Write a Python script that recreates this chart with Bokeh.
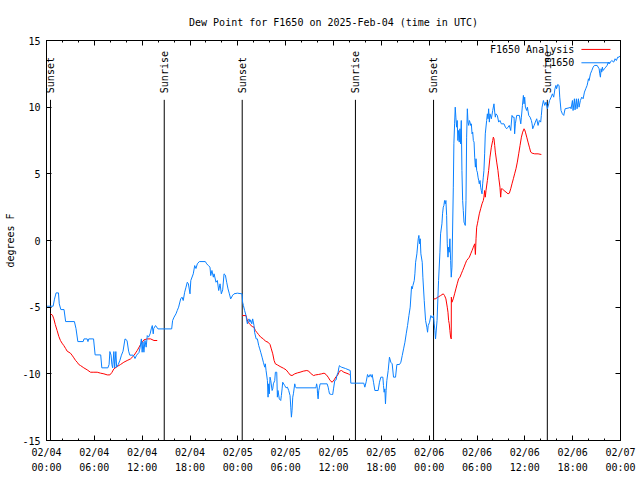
import math
from bokeh.plotting import figure
from bokeh.models import Range1d, FixedTicker, LinearAxis, Label, Arrow, CustomJSTickFormatter
from bokeh.core.properties import value
from bokeh.embed import file_html
from bokeh.resources import INLINE

NAN = float("nan")
FONT = "DejaVu Sans Mono"

# time axis: hours since 2025-02-04 00:00 UTC
# F1650 observations, (hour, dew point degF)
f1650_day1 = [(0.08,-4.93),(0.83,-4.93),(1.0,-4.4),(1.2,-3.93),(1.5,-3.93),(1.6,-4.75),(1.8,-5.18),(2.2,-5.18),(2.4,-6.08),(3.5,-6.08),(3.7,-6.6),(3.93,-7.58),(4.6,-7.58),(4.7,-7.38),(5.1,-7.38),(5.2,-7.58),(5.3,-7.38),(5.9,-7.38),(6.1,-8.58),(6.8,-8.58),(6.94,-9.55),(7.7,-9.55),(7.85,-9.3),(7.95,-8.33),(8.1,-8.6),(8.2,-9.3),(8.3,-9.55),(8.45,-8.33),(8.55,-9.55),(8.7,-8.33),(8.8,-9.5),(9.0,-9.3),(9.2,-9.0),(9.4,-8.6),(9.6,-8.3),(9.85,-7.38),(10.1,-7.5),(10.3,-8.3),(10.45,-8.6),(10.9,-8.6),(11.1,-8.85),(11.3,-8.6),(11.6,-8.4),(11.75,-8.0),(11.9,-7.38),(12.0,-8.38),(12.1,-7.6),(12.22,-8.38),(12.35,-7.5),(12.5,-8.0),(12.64,-7.13),(12.8,-7.25),(13.0,-7.0),(13.14,-6.63),(13.27,-6.38),(13.39,-7.0),(13.45,-6.6),(13.68,-6.38),(13.98,-6.63),(15.7,-6.63),(15.82,-6.0),(16.0,-5.75),(16.24,-5.5),(16.4,-5.25),(16.57,-5.0),(16.83,-4.38),(17.0,-4.25),(17.15,-4.5),(17.33,-3.88),(17.5,-3.5),(17.66,-3.13),(17.8,-3.25),(18.0,-4.0),(18.1,-3.0),(18.41,-2.5),(18.59,-1.88),(18.75,-2.1),(18.92,-1.75),(19.17,-1.58),(19.92,-1.58),(20.1,-1.75),(20.3,-1.88),(20.51,-2.0),(20.6,-2.63),(20.75,-2.25),(20.93,-2.75),(21.02,-2.5),(21.26,-3.13),(21.43,-3.0),(21.6,-3.75),(21.77,-3.25),(21.93,-4.0),(22.1,-3.7),(22.27,-2.5),(22.44,-2.6),(22.6,-3.13),(22.77,-3.63),(22.94,-4.0),(23.1,-4.38),(23.36,-4.1),(23.52,-4.0),(23.94,-3.95),(24.53,-4.0)]
f1650_day2 = [(24.6,-4.63),(24.7,-4.88),(24.85,-5.25),(25.03,-5.63),(25.1,-5.95),(25.2,-6.25),(25.3,-6.0),(25.4,-5.88),(25.53,-6.13),(25.6,-5.95),(25.75,-6.25),(25.86,-5.88),(26.03,-6.38),(26.1,-6.88),(26.3,-7.38),(26.45,-7.38),(26.62,-7.88),(26.75,-8.13),(26.87,-8.38),(27.04,-8.75),(27.2,-9.13),(27.37,-9.5),(27.45,-9.25),(27.54,-9.75),(27.71,-10.5),(27.79,-11.75),(27.87,-10.75),(27.95,-11.5),(28.04,-10.25),(28.13,-10.5),(28.3,-11.25),(28.38,-11.13),(28.46,-10.75),(28.63,-10.5),(28.71,-9.88),(28.88,-9.88),(28.96,-11.75),(29.04,-11.25),(29.2,-11.88),(29.38,-12.0),(29.46,-11.63),(29.55,-11.13),(29.63,-10.63),(29.88,-10.88),(30.05,-11.05),(30.22,-11.0),(30.38,-11.25),(30.55,-11.63),(30.64,-12.5),(30.72,-13.25),(30.8,-12.75),(30.89,-11.75),(30.97,-11.5),(31.14,-10.75),(31.22,-10.95),(31.31,-11.05),(33.8,-11.05),(33.88,-10.75),(33.95,-10.95),(34.0,-11.5),(34.07,-11.88),(34.15,-11.25),(34.24,-11.0),(34.32,-10.75),(35.2,-10.75),(35.33,-11.0),(35.41,-11.25),(35.5,-11.5),(35.75,-11.55),(35.9,-11.55),(36.0,-11.13),(36.16,-10.5),(36.33,-10.45),(36.42,-10.13),(36.58,-9.88),(36.67,-9.55),(36.75,-9.38),(36.85,-9.45),(37.0,-9.5),(37.5,-9.6),(38.1,-9.75),(38.17,-10.7),(39.8,-10.7),(39.93,-11.0),(40.1,-10.6),(40.27,-10.05),(40.43,-10.25),(40.6,-10.05),(40.77,-10.25),(40.85,-10.05),(41.02,-10.63),(41.19,-11.25),(41.6,-11.25),(41.77,-10.63),(41.94,-10.25),(42.19,-10.25),(42.27,-10.88),(42.35,-11.38),(42.44,-11.13),(42.52,-12.25),(42.6,-11.25),(42.69,-10.5),(42.86,-9.75),(43.02,-8.75),(43.19,-9.13),(43.36,-9.25),(43.53,-10.25),(43.78,-10.25),(43.95,-9.3),(44.28,-9.3),(44.45,-9.13),(44.62,-8.63),(44.79,-8.13),(44.96,-7.63),(45.12,-7.0),(45.29,-6.38),(45.46,-5.63),(45.62,-5.0),(45.79,-3.45),(45.88,-3.63),(45.96,-3.38),(46.13,-3.0),(46.21,-2.5),(46.3,-1.63),(46.46,-1.0),(46.63,0.13),(46.71,0.38),(46.8,-0.25),(46.88,0.13),(46.96,-1.0),(47.13,-1.63),(47.21,-2.75),(47.38,-4.5),(47.55,-6.0),(47.71,-6.5),(47.8,-6.88),(47.88,-6.38),(48.05,-6.13),(48.21,-5.63),(48.38,-5.8),(48.55,-5.63)]
f1650_day3 = [(48.63,-6.25),(48.72,-6.75),(48.8,-7.38),(48.99,-6.0),(49.1,-4.25),(49.18,-3.0),(49.35,-0.88),(49.43,0.5),(49.6,1.25),(49.68,2.0),(49.77,2.5),(49.85,2.63),(49.93,3.0),(50.02,2.75),(50.1,3.0),(50.19,1.88),(50.27,-0.25),(50.36,-1.25),(50.44,-0.5),(50.52,-0.88),(50.6,0.13),(50.69,-1.5),(50.77,-2.75),(50.86,-2.0),(51.03,4.0),(51.1,7.25),(51.19,8.75),(51.27,10.0),(51.35,9.25),(51.44,8.5),(51.52,9.0),(51.6,7.5),(51.69,8.25),(51.77,7.38),(51.86,8.38),(51.94,7.25),(52.03,9.0),(52.11,5.25),(52.2,3.0),(52.28,2.25),(52.37,1.38),(52.45,1.25),(52.53,1.13),(52.62,3.0),(52.7,7.75),(52.79,9.88),(52.87,8.88),(52.96,8.63),(53.04,9.0),(53.12,8.88),(53.21,8.63),(53.29,8.75),(53.38,8.0),(53.46,8.13),(53.54,7.5),(53.63,7.38),(53.71,6.25),(53.8,5.5),(53.88,6.13),(53.96,5.25),(54.04,5.13),(54.13,4.75),(54.21,4.5),(54.29,4.25),(54.38,4.5),(54.46,4.0),(54.54,3.75),(54.63,3.5),(54.71,4.25),(54.79,4.75),(54.87,5.25),(54.96,6.5),(55.04,8.0),(55.21,9.0),(55.3,9.5),(55.38,9.13),(55.46,9.88),(55.55,8.88),(55.63,9.5),(55.8,9.13),(55.97,9.75),(56.13,10.25),(56.22,9.63),(56.3,9.25),(56.38,9.5),(56.55,9.38),(56.72,8.88),(56.88,9.0),(57.05,8.75),(57.39,8.75),(57.56,8.5),(57.72,8.38),(57.89,8.5),(58.05,8.63),(58.23,8.25),(58.39,9.38),(58.48,9.25),(58.65,9.25),(58.72,8.0),(58.81,8.75),(58.98,9.38),(59.32,9.38),(59.49,8.75),(59.57,9.25),(59.7,10.13),(59.82,10.88),(59.9,10.25),(59.98,10.75),(60.07,10.0),(60.24,9.75),(60.32,10.0),(60.49,9.38),(60.66,9.25),(60.82,9.0),(60.91,8.75),(60.99,8.38),(61.16,8.63),(61.32,8.88),(61.49,9.13),(61.66,8.63),(61.82,9.0),(61.99,8.88),(62.07,9.38),(62.16,10.0),(62.33,10.5),(62.5,10.13),(62.66,10.38),(62.83,9.88),(63.0,10.25),(63.1,10.5),(63.3,10.75),(63.46,11.0),(63.62,10.75),(63.78,11.38),(63.9,11.63),(63.98,11.38),(64.12,11.7),(64.29,11.63),(64.38,10.75),(64.54,9.75),(64.71,9.5),(64.88,9.38),(65.05,9.88),(65.55,9.95),(65.72,10.0),(65.8,9.88),(65.97,10.5),(66.05,9.75),(66.22,10.63),(66.3,9.8),(66.47,10.63),(66.55,9.88),(66.72,10.63),(66.8,10.0),(66.97,10.5),(67.14,10.75),(67.31,10.63),(67.48,11.13),(67.64,11.38),(67.81,11.63),(67.9,11.88),(67.98,12.13),(68.06,12.0),(68.23,12.5),(68.4,12.75),(68.57,13.0),(68.73,13.13),(69.07,13.13),(69.32,12.88),(69.4,12.5),(69.48,12.25),(69.57,12.88),(69.65,12.63),(69.73,13.0),(69.82,12.75),(69.98,12.88),(70.15,13.0),(70.32,13.13),(70.48,13.38),(70.57,13.25),(70.73,13.38),(70.9,13.5),(71.15,13.38),(71.32,13.63),(71.48,13.5),(71.65,13.75),(71.82,13.75),(72.0,13.88)]

# F1650 Analysis (hour, dew point degF), one run per night
analysis_night1 = [(0.5,-5.5),(0.75,-5.6),(0.92,-5.88),(1.1,-6.3),(1.33,-6.75),(1.55,-7.2),(1.75,-7.5),(1.95,-7.7),(2.17,-7.88),(2.4,-8.1),(2.59,-8.3),(3.0,-8.45),(3.2,-8.6),(3.43,-8.8),(3.65,-9.0),(3.85,-9.13),(4.05,-9.3),(4.27,-9.38),(4.68,-9.55),(5.1,-9.7),(5.52,-9.88),(5.94,-9.88),(6.36,-9.88),(6.78,-9.95),(7.2,-10.0),(7.62,-10.08),(7.95,-10.08),(8.2,-9.9),(8.45,-9.63),(8.87,-9.45),(9.29,-9.3),(9.7,-9.13),(10.12,-9.0),(10.54,-8.88),(10.96,-8.63),(11.38,-8.25),(11.8,-7.8),(12.22,-7.45),(12.64,-7.38),(13.06,-7.38),(13.48,-7.5),(13.89,-7.5)]
analysis_night2 = [(24.55,-5.63),(25.03,-5.63),(25.15,-5.9),(25.3,-6.13),(25.53,-6.3),(25.8,-6.45),(26.03,-6.5),(26.2,-6.75),(26.37,-6.88),(26.6,-7.05),(26.87,-7.25),(27.2,-7.38),(27.46,-7.55),(27.79,-7.63),(28.04,-7.8),(28.2,-8.13),(28.38,-8.5),(28.55,-9.0),(28.71,-9.25),(28.96,-9.33),(29.3,-9.45),(29.72,-9.58),(30.05,-9.7),(30.3,-9.88),(30.55,-10.08),(30.8,-10.13),(31.14,-10.0),(31.47,-9.93),(31.8,-9.88),(32.2,-9.8),(32.65,-9.75),(32.9,-9.8),(33.1,-9.95),(33.5,-10.13),(33.75,-10.08),(34.1,-10.05),(34.5,-10.0),(34.82,-9.95),(35.07,-10.05),(35.33,-10.25),(35.58,-10.5),(35.83,-10.63),(36.08,-10.45),(36.33,-10.2),(36.5,-10.13),(36.75,-9.8),(37.0,-9.75),(37.3,-9.88),(37.85,-10.0),(38.05,-10.08)]
analysis_night3 = [(48.55,-4.38),(48.76,-4.38),(49.1,-4.25),(49.43,-4.13),(49.77,-4.0),(49.93,-4.13),(50.1,-4.38),(50.27,-5.0),(50.36,-5.38),(50.44,-6.0),(50.52,-6.25),(50.6,-6.75),(50.69,-7.25),(50.77,-7.38),(50.78,-4.25),(50.86,-4.63),(51.02,-4.38),(51.19,-4.0),(51.35,-3.63),(51.52,-3.25),(51.69,-2.88),(51.86,-2.75),(52.03,-2.5),(52.2,-2.25),(52.37,-2.0),(52.53,-1.75),(52.7,-1.5),(52.87,-1.38),(53.04,-1.25),(53.21,-1.0),(53.38,-0.75),(53.54,-0.5),(53.71,-0.25),(53.8,-1.05),(53.88,0.13),(53.96,1.0),(54.05,1.25),(54.13,1.5),(54.29,2.0),(54.46,2.38),(54.63,2.75),(54.79,3.0),(54.87,3.25),(54.96,3.75),(55.04,3.25),(55.13,3.75),(55.3,4.5),(55.46,5.25),(55.63,6.25),(55.8,7.0),(55.97,7.5),(56.05,7.75),(56.13,7.63),(56.22,7.13),(56.3,6.63),(56.47,5.88),(56.63,5.25),(56.72,4.75),(56.88,4.0),(56.97,3.25),(57.05,3.88),(57.22,3.85),(57.39,3.75),(57.64,3.63),(57.89,3.5),(58.06,3.55),(58.23,3.88),(58.39,4.25),(58.56,4.63),(58.72,5.0),(58.89,5.38),(59.06,5.88),(59.23,6.5),(59.4,7.13),(59.57,7.75),(59.73,8.13),(59.9,8.38),(59.98,8.3),(60.07,8.13),(60.24,7.75),(60.4,7.38),(60.57,7.0),(60.74,6.63),(60.91,6.55),(61.24,6.5),(61.66,6.5),(62.07,6.45)]

sun_hours = [0.5, 14.77, 24.55, 38.75, 48.55, 62.82]
sun_labels = ["Sunset", "Sunrise", "Sunset", "Sunrise", "Sunset", "Sunrise"]

x_ticks = [0, 6, 12, 18, 24, 30, 36, 42, 48, 54, 60, 66, 72]
x_minor_ticks = list(range(0, 73, 2))
x_tick_labels = ["02/04\n00:00", "02/04\n06:00", "02/04\n12:00", "02/04\n18:00",
                 "02/05\n00:00", "02/05\n06:00", "02/05\n12:00", "02/05\n18:00",
                 "02/06\n00:00", "02/06\n06:00", "02/06\n12:00", "02/06\n18:00",
                 "02/07\n00:00"]
y_ticks = [-15, -10, -5, 0, 5, 10, 15]
y_tick_labels = ["-15", "-10", "-5", "0", "5", "10", "15"]

BLUE = "#0a80ff"
RED = "#ff0000"

f1650 = f1650_day1 + f1650_day2 + f1650_day3
obs_x = [h for h, v in f1650]
obs_y = [v for h, v in f1650]

ana_x, ana_y = [], []
for run in (analysis_night1, analysis_night2, analysis_night3):
    ana_x += [h for h, v in run] + [NAN]
    ana_y += [v for h, v in run] + [NAN]

p = figure(width=640, height=480, output_backend="svg", toolbar_location=None,
           x_range=Range1d(0, 72), y_range=Range1d(-15, 15),
           min_border_left=46, min_border_right=20, min_border_top=40,
           min_border_bottom=40,
           title="Dew Point for F1650 on 2025-Feb-04 (time in UTC)")
p.title.align = "center"
p.title.text_font = FONT
p.title.text_font_size = "10px"
p.title.text_font_style = "normal"
p.title.text_color = "black"
p.title.standoff = 26

p.xgrid.visible = False
p.ygrid.visible = False
p.outline_line_color = "black"
p.outline_line_alpha = 1.0
p.background_fill_color = "white"
p.border_fill_color = "white"


def style_axis(ax, labels=True):
    ax.axis_line_color = "black"
    ax.major_tick_line_color = "black"
    ax.minor_tick_line_color = "black"
    ax.major_tick_in = 5
    ax.major_tick_out = 0
    ax.minor_tick_in = 2
    ax.minor_tick_out = 0
    ax.major_label_text_font = FONT
    ax.major_label_text_color = "black"
    ax.major_label_text_font_size = "10px"
    if not labels:
        ax.formatter = CustomJSTickFormatter(code="return ''")
        ax.major_label_standoff = 0


xax = p.xaxis[0]
xax.ticker = FixedTicker(ticks=x_ticks, minor_ticks=x_minor_ticks)
xax.major_label_overrides = dict(zip(x_ticks, x_tick_labels))
style_axis(xax)
xax.major_label_standoff = 6
xax.major_label_text_line_height = 1.45

yax = p.yaxis[0]
yax.ticker = FixedTicker(ticks=y_ticks, minor_ticks=[])
yax.major_label_overrides = dict(zip(y_ticks, y_tick_labels))
style_axis(yax)
yax.major_label_standoff = 6
yax.axis_label = "degrees F"
yax.axis_label_text_font = FONT
yax.axis_label_text_font_size = "10px"
yax.axis_label_text_font_style = "normal"
yax.axis_label_text_color = "black"
yax.axis_label_standoff = 3

top = LinearAxis(ticker=FixedTicker(ticks=x_ticks, minor_ticks=x_minor_ticks))
style_axis(top, labels=False)
p.add_layout(top, "above")
right = LinearAxis(ticker=FixedTicker(ticks=y_ticks, minor_ticks=[]))
style_axis(right, labels=False)
p.add_layout(right, "right")

# sunrise / sunset markers
p.segment(x0=sun_hours, y0=-15, x1=sun_hours, y1=10.55, line_color="black", line_width=1)
p.text(x=sun_hours, y=11.05, text=sun_labels, angle=math.pi / 2,
       text_align="left", text_baseline="middle", text_color="black",
       text_font=value(FONT), text_font_size="10px")

p.line(ana_x, ana_y, line_color=RED, line_width=1)
p.line(obs_x, obs_y, line_color=BLUE, line_width=1)

# gnuplot-style key (label left, sample right)
p.add_layout(Label(x=66.2, y=14.33, text="F1650 Analysis", text_align="right",
                   text_baseline="middle", text_font=FONT, text_font_size="10px",
                   text_color="black"))
p.add_layout(Arrow(end=None, x_start=67.1, y_start=14.33, x_end=70.74, y_end=14.33,
                   line_color=RED, line_width=1))
p.add_layout(Label(x=66.2, y=13.33, text="F1650", text_align="right",
                   text_baseline="middle", text_font=FONT, text_font_size="10px",
                   text_color="black"))
p.add_layout(Arrow(end=None, x_start=67.1, y_start=13.33, x_end=70.74, y_end=13.33,
                   line_color=BLUE, line_width=1))

open("out.html", "w").write(file_html(p, INLINE))
